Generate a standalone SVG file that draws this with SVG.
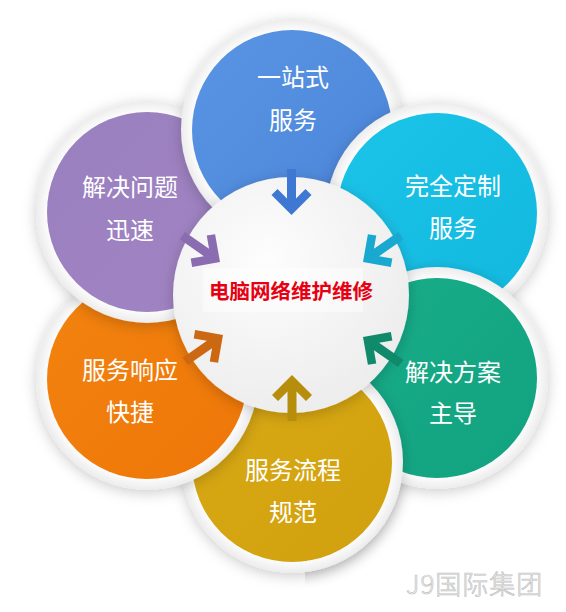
<svg xmlns="http://www.w3.org/2000/svg" xmlns:xlink="http://www.w3.org/1999/xlink" width="566" height="612" viewBox="0 0 566 612">
<style>
.lbl{font-family:"Noto Sans CJK SC","Noto Sans",sans-serif;font-size:24px;fill:#ffffff;text-anchor:middle}
.ttl{font-family:"Noto Sans CJK SC","Noto Sans",sans-serif;font-size:20.5px;font-weight:bold;fill:#e60012;text-anchor:middle}
.wm{font-family:"Noto Sans CJK SC","Noto Sans",sans-serif;font-size:26px;font-weight:300;fill:#f6f6f6;stroke:#c2c2c2;stroke-width:0.7;letter-spacing:1px}
.ring{fill:url(#ring);filter:url(#sh)}
</style>
<defs>
<filter id="sh" x="-30%" y="-30%" width="160%" height="160%"><feDropShadow dx="0" dy="3" stdDeviation="7" flood-color="#000" flood-opacity="0.2"/></filter>
<radialGradient id="ring" cx="50%" cy="50%" r="50%"><stop offset="0.88" stop-color="#ffffff"/><stop offset="1" stop-color="#ececec"/></radialGradient>
<radialGradient id="core" cx="40%" cy="35%" r="70%"><stop offset="0" stop-color="#fdfdfd"/><stop offset="1" stop-color="#ececec"/></radialGradient>
<linearGradient id="gBlue" x1="0" y1="0" x2="1" y2="1"><stop offset="0" stop-color="#5a95e4"/><stop offset="1" stop-color="#4a84d8"/></linearGradient>
<linearGradient id="gCyan" x1="0" y1="0" x2="1" y2="1"><stop offset="0" stop-color="#1cc4e8"/><stop offset="1" stop-color="#12b8df"/></linearGradient>
<linearGradient id="gGreen" x1="0" y1="0" x2="1" y2="1"><stop offset="0" stop-color="#18ad8a"/><stop offset="1" stop-color="#12a27f"/></linearGradient>
<linearGradient id="gYellow" x1="0" y1="0" x2="1" y2="1"><stop offset="0" stop-color="#d9a915"/><stop offset="1" stop-color="#d0a00e"/></linearGradient>
<linearGradient id="gOrange" x1="0" y1="0" x2="1" y2="1"><stop offset="0" stop-color="#f2830f"/><stop offset="1" stop-color="#ee7608"/></linearGradient>
<linearGradient id="gPurple" x1="0" y1="0" x2="1" y2="1"><stop offset="0" stop-color="#9a80bf"/><stop offset="1" stop-color="#a183c2"/></linearGradient>
<path id="arw" d="M0,0 L-20,-20 L-14,-26 L-4.5,-16.5 L-4.5,-46 L4.5,-46 L4.5,-16.5 L14,-26 L20,-20 Z"/>
<clipPath id="cY"><rect x="305" y="330" width="261" height="282"/></clipPath>
</defs>
<rect width="566" height="612" fill="#ffffff"/>

<g id="n-yellow">
<circle class="ring" cx="292" cy="462" r="111"/>
<circle cx="292" cy="462" r="100" fill="url(#gYellow)"/>
<text class="lbl" x="293" y="479">服务流程</text>
<text class="lbl" x="293" y="521">规范</text>
</g>
<g id="n-orange">
<circle class="ring" cx="147" cy="379" r="111"/>
<circle cx="147" cy="379" r="100" fill="url(#gOrange)"/>
<text class="lbl" x="130" y="379">服务响应</text>
<text class="lbl" x="130" y="421">快捷</text>
</g>
<g id="n-purple">
<circle class="ring" cx="147" cy="212" r="111"/>
<circle cx="147" cy="212" r="100" fill="url(#gPurple)"/>
<text class="lbl" x="130" y="196">解决问题</text>
<text class="lbl" x="130" y="239">迅速</text>
</g>
<g id="n-blue">
<circle class="ring" cx="292" cy="130" r="111"/>
<circle cx="292" cy="130" r="100" fill="url(#gBlue)"/>
<text class="lbl" x="293" y="86">一站式</text>
<text class="lbl" x="293" y="129">服务</text>
</g>
<g id="n-cyan">
<circle class="ring" cx="437" cy="213" r="111"/>
<circle cx="437" cy="213" r="100" fill="url(#gCyan)"/>
<text class="lbl" x="453" y="195">完全定制</text>
<text class="lbl" x="453" y="237">服务</text>
</g>
<g id="n-green">
<circle class="ring" cx="437" cy="378" r="111"/>
<circle cx="437" cy="378" r="100" fill="url(#gGreen)"/>
<text class="lbl" x="453" y="381">解决方案</text>
<text class="lbl" x="453" y="422">主导</text>
</g>
<use id="n-yellow-top" xlink:href="#n-yellow" href="#n-yellow" clip-path="url(#cY)"/>

<g id="n-center">
<circle cx="291" cy="295" r="118" fill="url(#core)" filter="url(#sh)"/>
<rect x="203" y="268" width="160" height="44" fill="#ffffff" opacity="0.45"/>
<text class="ttl" x="291" y="299">电脑网络维护维修</text>
</g>

<g id="connectors">
<use href="#arw" xlink:href="#arw" fill="#3f78d2" transform="translate(291.5,215)"/>
<use href="#arw" xlink:href="#arw" fill="#18a8d0" transform="translate(363,262) rotate(55)"/>
<use href="#arw" xlink:href="#arw" fill="#118a6c" transform="translate(363,337) rotate(125)"/>
<use href="#arw" xlink:href="#arw" fill="#b68e0c" transform="translate(292,375) rotate(180)"/>
<use href="#arw" xlink:href="#arw" fill="#cc6812" transform="translate(223,335) rotate(-125)"/>
<use href="#arw" xlink:href="#arw" fill="#8a6db0" transform="translate(220,262) rotate(-55)"/>
</g>

<text id="watermark" class="wm" x="406" y="594">J9国际集团</text>
</svg>
